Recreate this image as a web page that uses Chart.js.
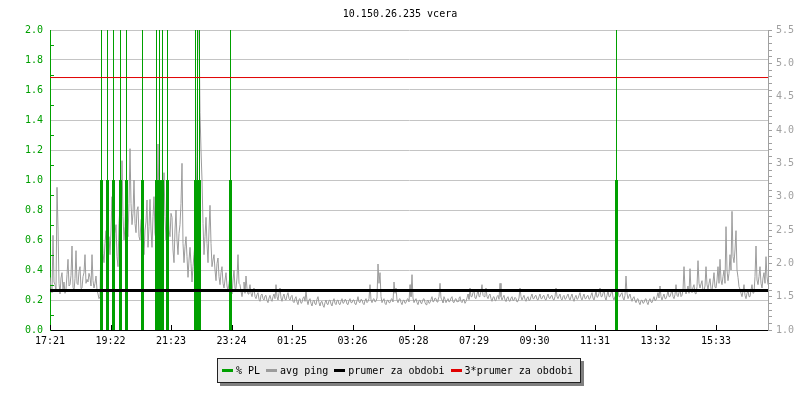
<!DOCTYPE html>
<html>
<head>
<meta charset="utf-8">
<title>10.150.26.235 vcera</title>
<script src="https://cdn.jsdelivr.net/npm/chart.js@4/dist/chart.umd.min.js"></script>
<style>
    html, body { margin: 0; padding: 0; background: #fff; }
    #wrap { position: relative; width: 800px; height: 400px; }
    #legend {
        position: absolute; left: 217px; top: 358px; width: 364px; height: 25px;
        box-sizing: border-box; border: 1px solid #222; background: #e9e9e9;
        box-shadow: 3px 3px 0 #808080;
        display: flex; align-items: center; padding-left: 4px;
        font: 10px "DejaVu Sans Mono", monospace; color: #000; white-space: nowrap;
    }
    #legend .item { display: flex; align-items: center; margin-right: 6px; }
    #legend .swatch { display: inline-block; width: 11px; height: 3px; margin-right: 3px; }
</style>
</head>
<body>
<div id="wrap">
    <canvas id="pingChart" width="800" height="400"></canvas>
    <div id="legend"></div>
</div>
<script>
// time axis (minutes from 17:21), ticks every ~2 h
const timeTicks = [0, 121, 242, 363, 484, 605, 727, 848, 969, 1090, 1211, 1332];
const timeLabels = ["17:21", "19:22", "21:23", "23:24", "01:25", "03:26", "05:28", "07:29", "09:30", "11:31", "13:32", "15:33"];
const timeMax = 1436;
const sampleStep = 2; // minutes between avg ping samples

// avg ping (right axis), one value per 2 minutes, 20 values per row
const avgPing = [
    1.79, 1.62, 1.56, 2.42, 1.72, 1.68, 1.58, 3.14, 2.53, 1.7, 1.54, 1.78, 1.86, 1.6, 1.72, 1.55, 1.61, 1.83, 2.06, 1.66,
    1.68, 1.82, 2.26, 1.64, 1.59, 1.77, 2.19, 1.7, 1.68, 1.88, 1.95, 1.62, 1.63, 1.8, 1.86, 2.13, 1.7, 1.76, 1.72, 1.85,
    1.79, 1.66, 2.13, 1.74, 1.63, 1.7, 1.81, 1.6, 1.54, 1.47, 1.5, 2.42, 2.6, 2.15, 2.01, 2.3, 2.49, 1.96, 1.9, 2.4,
    2.13, 2.5, 3.0, 2.2, 2.01, 2.45, 2.58, 2.1, 1.95, 2.6, 2.85, 2.3, 3.54, 2.7, 2.35, 2.55, 3.14, 2.5, 2.4, 2.9,
    3.72, 2.9, 2.58, 2.75, 3.25, 2.6, 2.46, 2.8, 2.85, 2.4, 2.35, 2.65, 2.69, 2.3, 2.13, 2.5, 2.62, 2.95, 2.24, 2.55,
    2.96, 2.5, 2.24, 2.7, 3.0, 2.45, 2.35, 2.8, 3.79, 2.9, 2.46, 2.75, 3.14, 2.6, 3.36, 2.7, 2.35, 2.65, 2.91, 2.5,
    2.4, 2.75, 2.69, 2.2, 2.01, 2.5, 2.8, 2.35, 2.13, 2.45, 2.58, 2.9, 3.5, 2.3, 2.01, 2.25, 2.4, 2.1, 1.79, 2.05,
    2.24, 2.0, 1.72, 1.95, 2.13, 2.3, 2.8, 3.6, 5.73, 5.6, 4.26, 3.7, 3.25, 2.6, 2.13, 2.4, 2.69, 2.3, 2.01, 2.5,
    2.87, 2.3, 1.95, 2.05, 2.13, 1.9, 1.74, 2.0, 2.08, 1.8, 1.68, 1.86, 1.95, 1.7, 1.63, 1.75, 1.86, 1.66, 1.59, 1.7,
    1.81, 1.65, 1.54, 1.75, 1.9, 1.62, 1.63, 1.78, 2.13, 1.7, 1.68, 1.58, 1.5, 1.6, 1.72, 1.55, 1.81, 1.62, 1.54, 1.6,
    1.68, 1.55, 1.5, 1.58, 1.63, 1.5, 1.47, 1.53, 1.56, 1.46, 1.43, 1.52, 1.54, 1.47, 1.45, 1.51, 1.52, 1.44, 1.41, 1.48,
    1.52, 1.46, 1.43, 1.5, 1.54, 1.47, 1.68, 1.5, 1.45, 1.55, 1.63, 1.48, 1.43, 1.5, 1.54, 1.46, 1.45, 1.52, 1.56, 1.47,
    1.45, 1.5, 1.52, 1.43, 1.41, 1.47, 1.5, 1.42, 1.38, 1.46, 1.47, 1.4, 1.41, 1.48, 1.5, 1.43, 1.59, 1.44, 1.38, 1.45,
    1.47, 1.4, 1.36, 1.43, 1.45, 1.39, 1.38, 1.46, 1.5, 1.41, 1.36, 1.42, 1.43, 1.37, 1.34, 1.41, 1.45, 1.39, 1.38, 1.44,
    1.45, 1.39, 1.36, 1.43, 1.47, 1.4, 1.38, 1.44, 1.45, 1.39, 1.38, 1.43, 1.47, 1.4, 1.41, 1.46, 1.45, 1.39, 1.38, 1.44,
    1.47, 1.41, 1.41, 1.45, 1.45, 1.39, 1.38, 1.44, 1.5, 1.42, 1.41, 1.46, 1.45, 1.4, 1.38, 1.44, 1.47, 1.41, 1.43, 1.47,
    1.68, 1.45, 1.41, 1.46, 1.47, 1.42, 1.43, 1.48, 1.99, 1.7, 1.86, 1.5, 1.41, 1.45, 1.47, 1.4, 1.38, 1.44, 1.45, 1.41,
    1.41, 1.46, 1.47, 1.42, 1.72, 1.55, 1.63, 1.45, 1.41, 1.46, 1.47, 1.41, 1.38, 1.44, 1.45, 1.4, 1.41, 1.46, 1.47, 1.42,
    1.68, 1.5, 1.83, 1.48, 1.41, 1.45, 1.47, 1.41, 1.38, 1.44, 1.45, 1.4, 1.41, 1.46, 1.47, 1.41, 1.38, 1.43, 1.45, 1.4,
    1.41, 1.46, 1.5, 1.42, 1.43, 1.48, 1.47, 1.42, 1.45, 1.5, 1.7, 1.48, 1.45, 1.41, 1.5, 1.46, 1.41, 1.45, 1.47, 1.42,
    1.43, 1.48, 1.5, 1.42, 1.41, 1.46, 1.47, 1.42, 1.43, 1.48, 1.5, 1.43, 1.41, 1.46, 1.45, 1.4, 1.43, 1.48, 1.54, 1.46,
    1.63, 1.5, 1.5, 1.56, 1.59, 1.48, 1.47, 1.53, 1.61, 1.5, 1.52, 1.58, 1.68, 1.52, 1.5, 1.55, 1.63, 1.5, 1.47, 1.52,
    1.54, 1.47, 1.43, 1.49, 1.5, 1.44, 1.45, 1.5, 1.52, 1.46, 1.7, 1.5, 1.45, 1.49, 1.52, 1.45, 1.43, 1.48, 1.5, 1.44,
    1.43, 1.48, 1.5, 1.44, 1.45, 1.49, 1.47, 1.42, 1.43, 1.48, 1.63, 1.5, 1.45, 1.49, 1.52, 1.46, 1.43, 1.48, 1.5, 1.44,
    1.45, 1.5, 1.54, 1.47, 1.47, 1.51, 1.52, 1.46, 1.45, 1.5, 1.54, 1.47, 1.47, 1.51, 1.52, 1.46, 1.45, 1.5, 1.54, 1.48,
    1.47, 1.51, 1.52, 1.46, 1.45, 1.5, 1.63, 1.5, 1.47, 1.51, 1.54, 1.47, 1.45, 1.5, 1.52, 1.46, 1.47, 1.51, 1.54, 1.48,
    1.45, 1.5, 1.54, 1.47, 1.43, 1.49, 1.52, 1.46, 1.47, 1.52, 1.56, 1.48, 1.45, 1.5, 1.54, 1.47, 1.47, 1.51, 1.52, 1.46,
    1.47, 1.52, 1.56, 1.48, 1.45, 1.51, 1.59, 1.49, 1.5, 1.55, 1.63, 1.5, 1.5, 1.55, 1.61, 1.49, 1.45, 1.52, 1.59, 1.5,
    1.5, 1.55, 1.61, 1.49, 1.45, 1.5, 1.41, 1.47, 1.59, 1.5, 1.5, 1.54, 1.56, 1.48, 1.45, 1.52, 1.81, 1.55, 1.47, 1.51,
    1.54, 1.47, 1.43, 1.48, 1.5, 1.44, 1.41, 1.46, 1.47, 1.41, 1.38, 1.44, 1.45, 1.4, 1.41, 1.46, 1.47, 1.41, 1.38, 1.44,
    1.47, 1.42, 1.41, 1.46, 1.5, 1.44, 1.45, 1.5, 1.56, 1.48, 1.66, 1.5, 1.45, 1.5, 1.54, 1.47, 1.47, 1.52, 1.59, 1.5,
    1.5, 1.55, 1.61, 1.5, 1.47, 1.53, 1.68, 1.52, 1.5, 1.56, 1.61, 1.5, 1.52, 1.6, 1.95, 1.62, 1.54, 1.6, 1.66, 1.55,
    1.92, 1.6, 1.56, 1.64, 1.68, 1.55, 1.54, 1.65, 2.04, 1.7, 1.63, 1.69, 1.74, 1.58, 1.59, 1.66, 1.95, 1.68, 1.61, 1.7,
    1.77, 1.62, 1.59, 1.72, 1.86, 1.64, 1.63, 1.75, 1.95, 1.7, 2.06, 1.75, 1.68, 1.8, 1.9, 1.7, 2.55, 1.9, 1.74, 1.85,
    2.13, 1.9, 2.78, 2.1, 2.01, 2.2, 2.49, 1.9, 1.79, 1.65, 1.61, 1.55, 1.5, 1.58, 1.68, 1.52, 1.47, 1.55, 1.59, 1.5,
    1.5, 1.6, 1.68, 1.55, 1.56, 1.8, 2.26, 1.75, 1.68, 1.8, 1.95, 1.7, 1.63, 1.78, 1.86, 1.7, 2.1, 1.8, 1.68
];

// packet loss spikes (left axis): time, level of the wide part, peak (off the top)
const plTimes = [103, 115, 127, 141, 153, 185, 213, 219, 225, 235, 291, 295, 299, 361, 1133];
const plBase  = [1.0, 1.0, 1.0, 1.0, 1.0, 1.0, 1.0, 1.0, 1.0, 1.0, 1.0, 1.0, 1.0, 1.0, 1.0];
const plPeak  = [2.5, 2.5, 2.5, 2.5, 2.5, 2.5, 2.5, 2.5, 2.5, 2.5, 2.5, 2.5, 2.5, 2.5, 2.5];

// prumer za obdobi, 3*prumer za obdobi (right axis)
const meanLevels = [1.593, 4.787];

const labels = ["% PL", "avg ping", "prumer za obdobi", "3*prumer za obdobi"];
const colors = ["#00a000", "#9c9c9c", "#000000", "#e00000"];

const FONT = "'DejaVu Sans Mono', monospace";
Chart.defaults.font.family = FONT;
Chart.defaults.font.size = 10;

// build point lists
const pingData = avgPing.map((v, i) => ({ x: i * sampleStep, y: v }));
const plBaseData = [];
const plTopData = [];
plTimes.forEach((t, i) => {
    plBaseData.push({ x: t, y: 0 }, { x: t, y: plBase[i] }, { x: t, y: null });
    plTopData.push({ x: t, y: plBase[i] }, { x: t, y: plPeak[i] }, { x: t, y: null });
});
const meanData = meanLevels.map(v => [{ x: 0, y: v }, { x: timeMax, y: v }]);

// inward tick marks (left minor ticks, bottom time ticks)
const innerTicks = {
    id: "innerTicks",
    afterDraw(chart) {
        const { ctx, chartArea, scales } = chart;
        ctx.save();
        ctx.lineWidth = 1;
        ctx.strokeStyle = colors[0];
        for (let v = 0.1; v < scales.y.max; v += 0.2) {
            const y = Math.round(scales.y.getPixelForValue(v)) + 0.5;
            ctx.beginPath();
            ctx.moveTo(chartArea.left, y);
            ctx.lineTo(chartArea.left + 4, y);
            ctx.stroke();
        }
        ctx.strokeStyle = "#000";
        timeTicks.forEach(t => {
            const x = Math.round(scales.x.getPixelForValue(t)) + 0.5;
            ctx.beginPath();
            ctx.moveTo(x, chartArea.bottom);
            ctx.lineTo(x, chartArea.bottom - 5);
            ctx.stroke();
        });
        ctx.restore();
    }
};

new Chart(document.getElementById("pingChart"), {
    type: "line",
    data: {
        datasets: [
            { label: labels[0], data: plBaseData, yAxisID: "y", borderColor: colors[0], borderWidth: 3, borderCapStyle: "butt", pointRadius: 0, order: 2 },
            { label: labels[0] + " peak", data: plTopData, yAxisID: "y", borderColor: colors[0], borderWidth: 1, pointRadius: 0, order: 2 },
            { label: labels[1], data: pingData, yAxisID: "y1", borderColor: colors[1], borderWidth: 1, borderJoinStyle: "bevel", pointRadius: 0, order: 3 },
            { label: labels[2], data: meanData[0], yAxisID: "y1", borderColor: colors[2], borderWidth: 3, pointRadius: 0, order: 1 },
            { label: labels[3], data: meanData[1], yAxisID: "y1", borderColor: colors[3], borderWidth: 1, pointRadius: 0, order: 0 }
        ]
    },
    options: {
        responsive: false,
        animation: false,
        devicePixelRatio: 1,
        spanGaps: false,
        layout: { padding: 0 },
        plugins: {
            legend: { display: false },
            tooltip: { enabled: false },
            title: {
                display: true,
                text: "10.150.26.235 vcera",
                color: "#000",
                font: { family: FONT, size: 10, weight: "normal" },
                padding: { top: 8, bottom: 10 }
            }
        },
        scales: {
            x: {
                type: "linear",
                min: 0,
                max: timeMax,
                afterBuildTicks: s => { s.ticks = timeTicks.map(v => ({ value: v })); },
                afterFit: s => { s.height = 70; },
                ticks: { autoSkip: false, maxRotation: 0, color: "#000", padding: 5, callback: (v, i) => timeLabels[i] },
                grid: { drawOnChartArea: false, drawTicks: false },
                border: { color: "#000", width: 1 }
            },
            y: {
                position: "left",
                min: 0,
                max: 2,
                afterFit: s => { s.width = 50; },
                ticks: { stepSize: 0.2, color: colors[0], padding: 7, callback: v => v.toFixed(1) },
                grid: { color: "#c4c4c4", drawTicks: false },
                border: { color: colors[0], width: 1 }
            },
            y1: {
                position: "right",
                min: 1.0,
                max: 5.5,
                afterFit: s => { s.width = 32; },
                ticks: {
                    stepSize: 0.1,
                    autoSkip: false,
                    color: "#a0a0a0",
                    padding: 4,
                    callback: v => Math.abs(v * 2 - Math.round(v * 2)) < 1e-6 ? v.toFixed(1) : ""
                },
                grid: { drawOnChartArea: false, drawTicks: true, tickLength: 4, color: "#a0a0a0" },
                border: { color: "#a0a0a0", width: 1 }
            }
        }
    },
    plugins: [innerTicks]
});

// legend box
document.getElementById("legend").innerHTML = labels.map((l, i) =>
    `<span class="item"><span class="swatch" style="background:${colors[i]}"></span>${l}</span>`
).join("");
</script>
</body>
</html>
